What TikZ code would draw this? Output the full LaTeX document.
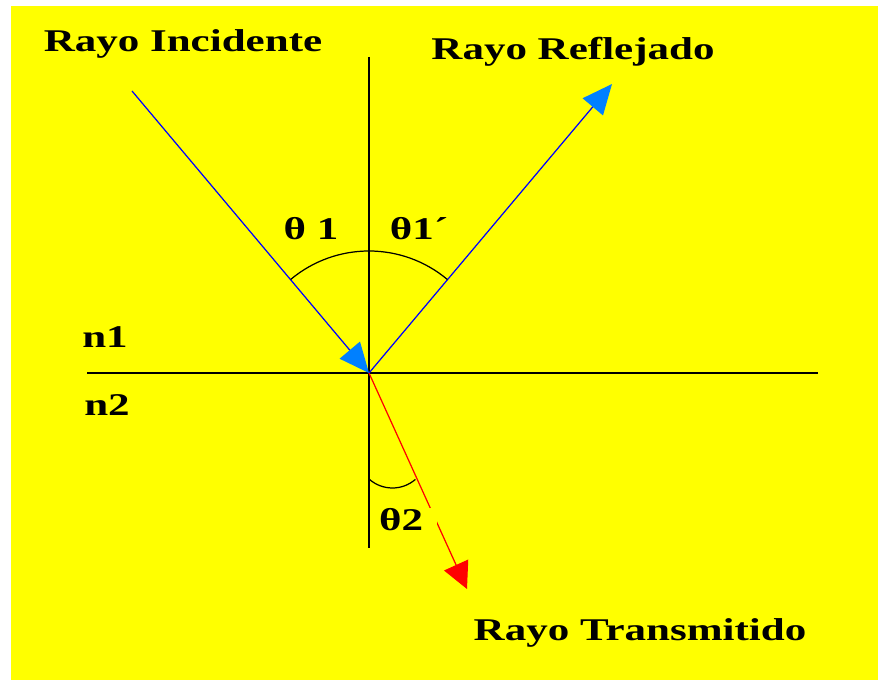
\documentclass[tikz,border=0pt]{standalone}
\usepackage{fontspec}
\newfontfamily\raylabel[FakeStretch=1.36]{Liberation Serif}
\usepackage{tikz}
\usetikzlibrary{arrows.meta,positioning,calc}
\definecolor{bgyellow}{RGB}{255,255,0}
\definecolor{tipblue}{RGB}{0,128,255}

\begin{document}
\begin{tikzpicture}[
    x=0.02cm, y=0.02cm,
    every node/.style={font=\raylabel\bfseries\fontsize{18}{20}\selectfont, inner sep=1pt},
    boundary/.style={draw=black, line width=0.9pt},
    ray/.style={draw=blue, line width=0.7pt},
    transray/.style={draw=red, line width=0.7pt},
    anglearc/.style={draw=black, line width=0.7pt},
    bluetip/.style={-{Triangle[length=17pt, width=15pt, color=tipblue]}},
    redtip/.style={-{Triangle[length=15pt, width=15pt, color=red]}}
  ]

    % Background
    \useasboundingbox (0,0) rectangle (878,680);
    \fill[bgyellow] (11,0) rectangle (878,674);

    % Normal and interface
    \coordinate (O) at (369,307);
    \coordinate (ntop) at (369,623);
    \coordinate (nbot) at (369,132);
    \coordinate (ileft) at (87,307);
    \coordinate (iright) at (818,307);
    \draw[boundary] (ntop) -- (nbot);
    \draw[boundary] (ileft) -- (iright);

    % Ray ends
    \coordinate (inc) at (132,589);
    \coordinate (refl) at (612,596);
    \coordinate (trans) at (467,91);

    % Rays
    \draw[ray,bluetip] (inc) -- (O);
    \draw[ray,bluetip] (O) -- (refl);
    \draw[transray,redtip] (O) -- (trans);

    % Angles
    \draw[anglearc] (O) ++(130:122) arc[start angle=130, end angle=50, radius=122];
    \draw[anglearc] (369,201) arc[start angle=228, end angle=311, radius=35];

    % Labels
    \node[anchor=base] (lincident) at (183,628) {Rayo Incidente};
    \node[anchor=base] (lreflected) at (573,620) {Rayo Reflejado};
    \node[anchor=base] (ltransmitted) at (640,40) {Rayo Transmitido};
    \node[anchor=base] (ltheta1) at (311,440) {θ 1};
    \node[anchor=base] (ltheta1p) at (419,440) {θ1´};
    \node[anchor=base] (ln1) at (105,333) {n1};
    \node[anchor=base] (ln2) at (107,265) {n2};
    \node[anchor=base west, fill=bgyellow, inner ysep=0pt] (ltheta2) at (377,150) {θ2\kern7pt};

\end{tikzpicture}
\end{document}
